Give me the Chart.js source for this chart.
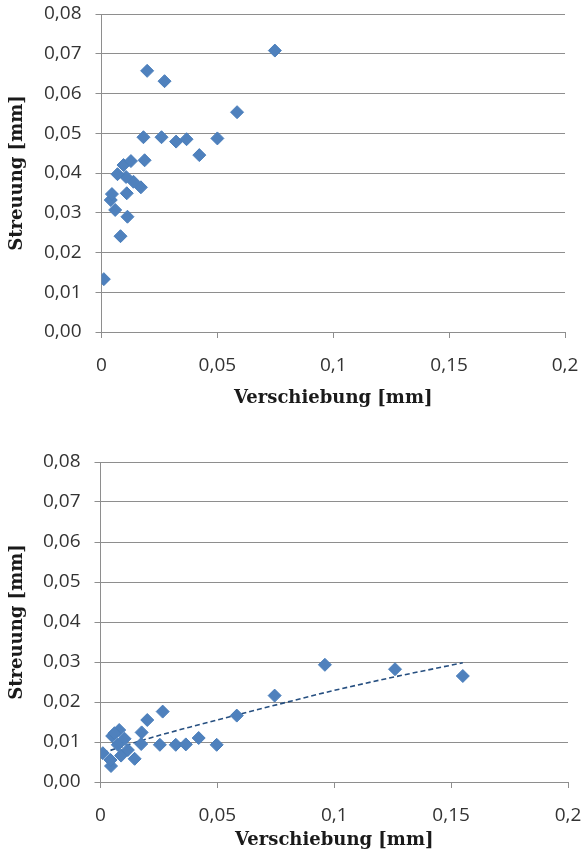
<!DOCTYPE html>
<html>
<head>
<meta charset="utf-8">
<script src="https://cdn.jsdelivr.net/npm/chart.js@4.4.0/dist/chart.umd.min.js"></script>
<style>
    html, body { margin: 0; padding: 0; background: #fff; }
    .box { position: absolute; left: 0; width: 582px; height: 428px; }
    #topBox { top: 0; }
    #bottomBox { top: 428px; }
</style>
</head>
<body>
<div class="box" id="topBox"><canvas id="topChart" width="582" height="428"></canvas></div>
<div class="box" id="bottomBox"><canvas id="bottomChart" width="582" height="428"></canvas></div>
<script>
// Werte
const xTickLabels = ['0', '0,05', '0,1', '0,15', '0,2'];
const yTickLabels = ['0,00', '0,01', '0,02', '0,03', '0,04', '0,05', '0,06', '0,07', '0,08'];

const topX = [0.0010, 0.0082, 0.0112, 0.0059, 0.0040, 0.0045, 0.0109, 0.0170, 0.0138, 0.0106, 0.0069, 0.0095,
    0.0127, 0.0186, 0.0181, 0.0259, 0.0322, 0.0367, 0.0422, 0.0500, 0.0585, 0.0197, 0.0272, 0.0748];
const topY = [0.0133, 0.0241, 0.0290, 0.0307, 0.0332, 0.0347, 0.0349, 0.0364, 0.0378, 0.0390, 0.0397, 0.0420,
    0.0430, 0.0432, 0.0490, 0.0490, 0.0479, 0.0485, 0.0445, 0.0487, 0.0553, 0.0657, 0.0631, 0.0708];

const bottomX = [0.0010, 0.0045, 0.0043, 0.0050, 0.0080, 0.0060, 0.0103, 0.0074, 0.0088, 0.0117, 0.0146, 0.0174,
    0.0176, 0.0200, 0.0266, 0.0254, 0.0322, 0.0365, 0.0420, 0.0497, 0.0583, 0.0745, 0.0960, 0.1260, 0.1550];
const bottomY = [0.0072, 0.0040, 0.0055, 0.0115, 0.0130, 0.0122, 0.0108, 0.0093, 0.0066, 0.0080, 0.0058, 0.0095,
    0.0124, 0.0155, 0.0176, 0.0093, 0.0093, 0.0094, 0.0110, 0.0093, 0.0166, 0.0216, 0.0293, 0.0282, 0.0265];

// Trendlinie (gestrichelt), nur im unteren Diagramm
const trendX = [0.001, 0.02, 0.04, 0.06, 0.08, 0.10, 0.126, 0.155];
const trendY = [0.0073, 0.0108, 0.0140, 0.0170, 0.0200, 0.0229, 0.0263, 0.0298];

const pairs = (xs, ys) => xs.map((x, i) => ({ x: x, y: ys[i] }));

const GRID = '#8e8e8e';
const TEXT = '#333333';
const tickFont = { family: '"Open Sans", sans-serif', size: 19 };
const titleFont = { family: '"DejaVu Serif", serif', size: 18, weight: 'bold' };

function makeChart(id, points, trend, geo) {
    const datasets = [{
        type: 'scatter',
        data: points,
        backgroundColor: '#4F81BD',
        borderColor: '#4A7EBB',
        borderWidth: 1,
        pointStyle: 'rectRot',
        pointRadius: 6.5,
        pointHoverRadius: 6.5
    }];
    if (trend) {
        datasets.push({
            type: 'line',
            data: trend,
            borderColor: '#264F80',
            borderWidth: 1.6,
            borderDash: [5, 3],
            pointRadius: 0,
            fill: false,
            tension: 0.4,
            cubicInterpolationMode: 'monotone'
        });
    }

    return new Chart(document.getElementById(id).getContext('2d'), {
        type: 'scatter',
        data: { datasets: datasets },
        options: {
            responsive: false,
            animation: false,
            events: [],
            layout: { padding: { top: geo.padTop, right: geo.padRight, bottom: 0, left: 0 } },
            plugins: { legend: { display: false }, tooltip: { enabled: false } },
            scales: {
                x: {
                    type: 'linear',
                    min: 0,
                    max: 0.2,
                    afterBuildTicks: (s) => { s.ticks = xTickLabels.map((t, i) => ({ value: i * 0.05 })); },
                    ticks: {
                        color: TEXT,
                        font: tickFont,
                        padding: 16,
                        maxRotation: 0,
                        callback: (v, i) => xTickLabels[i]
                    },
                    grid: { drawOnChartArea: false, drawTicks: true, tickLength: 6, color: GRID, lineWidth: 1 },
                    border: { color: GRID, width: 1 },
                    title: {
                        display: true,
                        text: 'Verschiebung [mm]',
                        color: '#1a1a1a',
                        font: titleFont,
                        padding: { top: 0, bottom: geo.xTitlePad }
                    },
                    afterFit: (s) => {
                        s.height = geo.xHeight;
                        s.paddingLeft = 0;
                        s.paddingRight = 0;
                    }
                },
                y: {
                    type: 'linear',
                    min: 0,
                    max: 0.08,
                    afterBuildTicks: (s) => { s.ticks = yTickLabels.map((t, i) => ({ value: i * 0.01 })); },
                    ticks: {
                        color: TEXT,
                        font: tickFont,
                        padding: 14,
                        callback: (v, i) => yTickLabels[i]
                    },
                    grid: { drawTicks: true, tickLength: 6, color: GRID, lineWidth: 1 },
                    border: { color: GRID, width: 1 },
                    title: {
                        display: true,
                        text: 'Streuung [mm]',
                        color: '#1a1a1a',
                        font: titleFont,
                        padding: { top: 7, bottom: 0 }
                    },
                    afterFit: (s) => {
                        s.width = geo.yWidth;
                        s.paddingTop = 0;
                        s.paddingBottom = 0;
                    }
                }
            }
        }
    });
}

makeChart('topChart', pairs(topX, topY), null,
    { padTop: 14, padRight: 17, yWidth: 101.5, xHeight: 96, xTitlePad: 19 });
makeChart('bottomChart', pairs(bottomX, bottomY), pairs(trendX, trendY),
    { padTop: 34, padRight: 14, yWidth: 100.5, xHeight: 74, xTitlePad: 5 });
</script>
</body>
</html>
